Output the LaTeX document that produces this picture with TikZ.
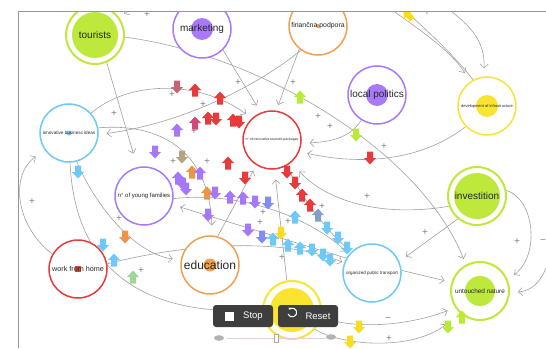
\documentclass[tikz,border=0pt]{standalone}
\usepackage{fontspec}
\setmainfont{Liberation Sans}
\usetikzlibrary{arrows.meta, backgrounds}

\definecolor{clime}{RGB}{190,232,60}
\definecolor{cpurple}{RGB}{168,122,250}
\definecolor{corange}{RGB}{240,160,80}
\definecolor{cyellow}{RGB}{250,228,50}
\definecolor{cblue}{RGB}{110,200,250}
\definecolor{cred}{RGB}{230,60,60}
\definecolor{clink}{RGB}{160,160,160}
\definecolor{cframe}{RGB}{150,150,150}
\definecolor{btngray}{RGB}{62,62,62}
% flow markers
\definecolor{fred}{RGB}{232,58,58}
\definecolor{fmauve}{RGB}{195,100,120}
\definecolor{fpink}{RGB}{210,70,120}
\definecolor{fpurple}{RGB}{165,120,250}
\definecolor{fblue}{RGB}{130,140,245}
\definecolor{ftan}{RGB}{180,165,130}
\definecolor{forange}{RGB}{235,150,70}
\definecolor{fcyan}{RGB}{110,200,250}
\definecolor{fsteel}{RGB}{130,160,200}
\definecolor{fyellow}{RGB}{250,220,30}
\definecolor{flime}{RGB}{185,235,50}
\definecolor{fgreen}{RGB}{160,215,150}

\begin{document}
\begin{tikzpicture}[
    x=1pt, y=-1pt,
    ring/.style={circle, draw=#1, line width=1.5pt, fill=white, minimum size=58pt, inner sep=0pt, align=center, text=black!85},
    core/.style 2 args={path picture={\fill[#1] (path picture bounding box.center) circle (#2);}},
    coresq/.style={path picture={\fill[#1] ([shift={(-3pt,-3pt)}]path picture bounding box.center) rectangle ++(6pt,6pt);}},
    fs/.style={font=\fontsize{#1}{#1}\selectfont},
    link/.style={draw=clink, line width=0.6pt, -{Straight Barb[length=4pt,width=8pt]}, shorten >=8pt},
    sign/.style={text=black!50, font=\fontsize{10}{10}\selectfont, inner sep=0pt},
    btn/.style={fill=btngray, rounded corners=3pt, minimum width=60pt, minimum height=22pt, inner sep=0pt},
    btntext/.style={text=white, font=\fontsize{9.5}{10}\selectfont, inner sep=0pt},
    pics/flow/.style={code={\fill[#1] (-3,6.5) -- (-3,0) -- (-6,0) -- (0,-6.5) -- (6,0) -- (3,0) -- (3,6.5) -- cycle;}}
]
\useasboundingbox (0,0) rectangle (546,348);

\begin{scope}
\clip (18.5,11.5) rectangle (546,348);

% factors
\node[ring=clime, core={clime}{23pt}, fs=10, line width=2pt] (tour) at (95,35) {tourists};
\node[ring=cpurple, core={cpurple}{11pt}, fs=10] (mark) at (202,29) {marketing};
\node[ring=corange, core={corange}{2pt}, fs=6.9] (fin) at (318,26) {finančna podpora};
\node[ring=cpurple, core={cpurple}{11pt}, fs=10] (pol) at (377,95) {local politics};
\node[ring=cyellow, core={cyellow}{11pt}, fs=4] (dev) at (487,106) {development of infrastructure};
\node[ring=cblue, core={cblue}{2.5pt}, fs=4.6] (inno) at (69,133) {innovative business ideas};
\node[ring=cred, fs=3.5] (pack) at (272,140) {n° of innovative touristic packages};
\node[ring=cpurple, fs=6] (yfam) at (144,196) {n° of young families};
\node[ring=clime, core={clime}{23pt}, fs=10, line width=2pt] (inv) at (477,196) {investition};
\node[ring=cblue, fs=4.5] (trans) at (372,273) {organized public transport};
\node[ring=clime, core={clime}{15pt}, fs=6.4, line width=2pt] (nat) at (480,291) {untouched nature};
\node[ring=corange, core={corange}{6.5pt}, fs=12] (edu) at (210,265) {education};
\node[ring=cred, coresq=cred, fs=7.2] (wfh) at (78,269) {work from home};
\node[ring=cyellow, core={cyellow}{22pt}, line width=2pt] (sun) at (292,310) {};

\begin{scope}[on background layer]
\clip (18.5,11.5) rectangle (546,348);
\coordinate (topa) at (385,5);
\coordinate (topb) at (400,5);
\coordinate (topc) at (443,5);
\coordinate (topt) at (140,3);
\coordinate (offr) at (556,200);
\draw[link, shorten >=14pt] (tour.-67) -- (yfam.103);
\draw[link, shorten >=6pt] (tour.-4) .. controls (260,55) and (420,150) .. (nat.118);
\draw[link] (mark.-45) -- (pack.112);
\draw[link, shorten >=6pt] (fin.-129) -- (pack.82);
\draw[link] (fin.-125) .. controls (245,95) and (170,125) .. (inno.-3);
\draw[link, shorten >=7pt] (inno.42) .. controls (130,80) and (200,80) .. (pack.133);
\draw[link, shorten >=10pt] (inno.10) .. controls (170,122) and (210,160) .. (edu.86);
\draw[link] (pol.-122) .. controls (350,138) and (330,142) .. (pack.-6);
\draw[link] (dev.-136) .. controls (420,162) and (360,165) .. (pack.-23);
\draw[link, shorten >=12pt] (inv.-160) .. controls (380,218) and (325,200) .. (pack.-49);
\draw[link] (inv.-130) -- (trans.23);
\draw[link] (inv.11) .. controls (535,200) and (540,255) .. (nat.22);
\draw[link] (offr) .. controls (555,255) and (545,290) .. (nat.-3);
\draw[link, shorten >=7pt] (trans.5) -- (nat.163);
\draw[link] (sun.-15) .. controls (360,330) and (410,325) .. (nat.-146);
\draw[link, shorten >=18pt] (sun.-40) .. controls (340,345) and (410,352) .. (nat.-131);
\draw[link, shorten >=10pt] (sun.100) -- (pack.-85);
\draw[link, shorten >=6pt] (edu.75) -- (pack.-122);
\draw[link] (trans.150) -- (yfam.-17);
\draw[link, shorten >=3pt] (pack.-60) .. controls (300,195) and (325,230) .. (trans.134);
\draw[link, shorten >=4pt] (yfam.-5) .. controls (230,192) and (300,210) .. (trans.140);
\draw[link, shorten >=2pt] (wfh.10) .. controls (200,240) and (290,240) .. (trans.160);
\draw[link, shorten >=11pt] (wfh.150) .. controls (15,225) and (10,175) .. (inno.-145);
\draw[link] (inno.-88) .. controls (75,275) and (150,315) .. (sun.180);
\draw[link] (inno.-75) .. controls (100,215) and (140,255) .. (edu.170);
\draw[link, shorten >=10pt] (topa) .. controls (420,30) and (450,50) .. (dev.124);
\draw[link, -] (dev.118) .. controls (450,50) and (420,25) .. (topb);
\draw[link, shorten >=8pt] (topc) .. controls (470,25) and (485,40) .. (dev.96);
\draw[link, shorten >=6pt] (topt) -- (tour.36);
\end{scope}

% polarity signs
\foreach \x/\y [count=\i] in {147/15, 427/13, 238/83, 172/95, 203/105, 114/114, 194/132,
    173/162, 207/162, 293/83, 318/117, 330/127, 384/147, 263/213, 260/223, 288/222,
    322/207, 282/258, 367/197, 425/233, 517/242, 32/202, 119/219, 141/271, 389/339}
  \node[sign] (plus\i) at (\x,\y) {+};
\node[sign] (minus1) at (543,242) {−};
\node[sign] (minus2) at (388,320) {−};

% moving flow markers
\foreach \x/\y/\c/\r in {177/87/fmauve/180, 195/90/fred/0, 220/98/fred/0, 195/123/fpink/0,
    208/118/fred/0, 216/119/fred/180, 233/120/fred/0, 239/122/fred/180,
    177/130/fpurple/0, 155/152/fpurple/180, 182/157/ftan/180, 192/172/forange/0,
    178/178/fpurple/0, 183/184/fpurple/180, 186/189/fpurple/180, 200/173/fpurple/0,
    228/163/fred/0, 245/178/fred/180, 207/193/forange/0, 215/193/fpurple/180,
    230/197/fpurple/0, 243/198/fpurple/0, 255/202/fpurple/180, 268/203/fblue/180,
    208/215/fpurple/180, 248/230/fpurple/180, 262/237/fblue/180, 273/239/fcyan/0,
    281/233/fyellow/180, 288/245/fcyan/0, 300/248/fcyan/0, 312/250/fcyan/180,
    323/255/fcyan/180, 330/260/fcyan/180, 295/217/fcyan/0, 318/215/fsteel/0,
    287/172/fred/180, 295/183/fred/180, 302/195/fred/0, 310/205/fred/0,
    327/228/fcyan/180, 338/238/fcyan/180, 347/248/fcyan/180,
    300/97/flime/0, 356/135/flime/180, 370/158/fred/180,
    78/172/fcyan/180, 125/237/forange/180, 103/245/fcyan/180, 114/260/fcyan/0,
    133/277/fgreen/0, 359/327/fyellow/180, 350/342/fyellow/180,
    448/327/flime/180, 462/317/flime/0, 408/15/fyellow/45}
  \pic[rotate=\r] at (\x,\y) {flow=\c};
\end{scope}

% frame
\draw[cframe, line width=0.8pt] (18,348) -- (18,11) -- (546,11);

% controls
\node[btn] (stop) at (243,316) {};
\fill[white] (224.5,311.5) rectangle ++(9,9);
\node[btntext] (stoplbl) at (253,316) {Stop};
\node[btn] (reset) at (308,316) {};
\draw[white, line width=1pt, -{Stealth[length=2pt, width=3pt]}] (288,314) arc[start angle=160, end angle=-140, radius=4.5];
\node[btntext] (resetlbl) at (318,316) {Reset};
\draw[color={rgb,255:red,235;green,205;blue,205}, line width=1pt] (227,338) -- (326,338);
\fill[black!30] (219,338) ellipse (5 and 2.8);
\fill[black!30] (331,337) ellipse (5 and 2.8);
\node[draw=black!35, fill=white, minimum width=4pt, minimum height=8pt, inner sep=0pt] (knob) at (276,338) {};
\end{tikzpicture}
\end{document}
